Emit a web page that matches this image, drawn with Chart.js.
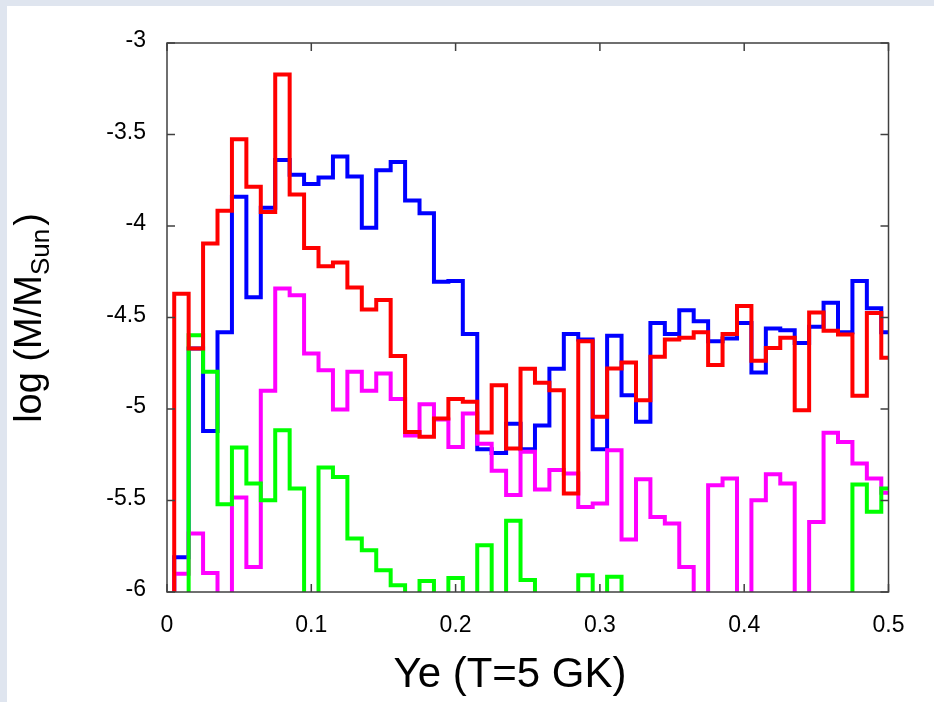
<!DOCTYPE html>
<html><head><meta charset="utf-8">
<script src="https://cdn.jsdelivr.net/npm/chart.js@4/dist/chart.umd.min.js"></script>
<style>
html,body{margin:0;padding:0;background:#dfe5ef;overflow:hidden;}
#wrap{position:absolute;left:0;top:0;width:934px;height:702px;}
</style></head><body>
<div id="wrap"><canvas id="c" width="934" height="702"></canvas></div>
<script>
// Ye bin centres (T = 5 GK)
const ye = [0.00,0.01,0.02,0.03,0.04,0.05,0.06,0.07,0.08,0.09,
            0.10,0.11,0.12,0.13,0.14,0.15,0.16,0.17,0.18,0.19,
            0.20,0.21,0.22,0.23,0.24,0.25,0.26,0.27,0.28,0.29,
            0.30,0.31,0.32,0.33,0.34,0.35,0.36,0.37,0.38,0.39,
            0.40,0.41,0.42,0.43,0.44,0.45,0.46,0.47,0.48,0.49,0.50];
// log(M/Msun) per bin; -6.6 marks bins that fall below the plotted range
const blueSeries = [-6.6,-5.81,-4.67,-5.12,-4.58,-3.84,-4.39,-3.90,-3.64,-3.72,
                    -3.77,-3.735,-3.62,-3.73,-4.01,-3.695,-3.65,-3.86,-3.93,-4.305,
                    -4.30,-4.59,-5.22,-5.24,-5.08,-5.22,-5.09,-4.78,-4.59,-4.62,
                    -5.22,-4.60,-4.925,-5.07,-4.53,-4.59,-4.46,-4.52,-4.63,-4.615,
                    -4.53,-4.80,-4.56,-4.57,-4.64,-4.55,-4.42,-4.58,-4.30,-4.45,-4.58];
const redSeries = [-6.6,-4.37,-4.67,-4.096,-3.917,-3.526,-3.786,-3.923,-3.172,-3.828,
                   -4.12,-4.22,-4.20,-4.336,-4.456,-4.405,-4.71,-5.125,-5.152,-5.052,
                   -4.946,-4.96,-5.128,-4.87,-5.216,-4.78,-4.857,-4.897,-5.462,-4.63,
                   -5.043,-4.779,-4.746,-4.952,-4.715,-4.62,-4.61,-4.58,-4.76,-4.59,
                   -4.437,-4.737,-4.666,-4.61,-5.007,-4.473,-4.573,-4.593,-4.928,-4.475,-4.72];
const magentaSeries = [-6.6,-5.90,-5.68,-5.896,-6.6,-5.484,-5.863,-4.90,-4.342,-4.378,
                       -4.697,-4.788,-5.003,-4.797,-4.90,-4.806,-4.946,-5.145,-4.974,-5.057,
                       -5.207,-5.025,-5.19,-5.338,-5.47,-5.234,-5.44,-5.334,-5.352,-5.535,
                       -5.516,-5.225,-5.713,-5.384,-5.59,-5.626,-5.863,-6.6,-5.416,-5.38,
                       -6.6,-5.498,-5.356,-5.407,-6.6,-5.617,-5.13,-5.18,-5.298,-5.38,-5.458];
const greenSeries = [-6.6,-6.6,-4.597,-4.797,-5.52,-5.21,-5.407,-5.498,-5.116,-5.434,
                     -6.6,-5.32,-5.371,-5.708,-5.772,-5.881,-5.963,-6.6,-5.94,-6.6,
                     -5.923,-6.6,-5.744,-6.6,-5.611,-5.935,-6.6,-6.6,-6.6,-5.908,
                     -6.6,-5.917,-6.6,-6.6,-6.6,-6.6,-6.6,-6.6,-6.6,-6.6,
                     -6.6,-6.6,-6.6,-6.6,-6.6,-6.6,-6.6,-6.6,-5.413,-5.562,-5.434];
// axis ticks
const xTicks = [0, 0.1, 0.2, 0.3, 0.4, 0.5];
const xTickLabels = ['0', '0.1', '0.2', '0.3', '0.4', '0.5'];
const yTicks = [-3, -3.5, -4, -4.5, -5, -5.5, -6];
const yTickLabels = ['-3', '-3.5', '-4', '-4.5', '-5', '-5.5', '-6'];
const xTitle = 'Ye (T=5 GK)';
const yTitleMain = 'log (M/M';
const yTitleSub = 'Sun';
const yTitleEnd = ')';

const FONT = '"Liberation Sans", Arial, Helvetica, sans-serif';
const SX = 1.0; // horizontal stretch of text

function pts(arr){ return ye.map((x,i)=>({x:x, y:arr[i]})); }
function ds(label, arr, color){
  return {label:label, data:pts(arr), borderColor:color, backgroundColor:color,
          borderWidth:4, pointRadius:0, stepped:'middle', fill:false,
          borderJoinStyle:'miter', borderCapStyle:'butt',
          clip:{left:0,top:0,right:0,bottom:0}};
}
function txt(ctx, s, x, y, size, align, base){
  ctx.save();
  ctx.font = size + 'px ' + FONT;
  ctx.fillStyle = '#000';
  ctx.textBaseline = base || 'middle';
  ctx.textAlign = align;
  ctx.translate(x, y);
  ctx.scale(SX, 1);
  ctx.fillText(s, 0, 0);
  ctx.restore();
}

const bgPlugin = {
  id:'bg',
  beforeDraw(chart){
    const ctx = chart.ctx;
    ctx.save();
    ctx.fillStyle = '#dfe5ef';
    ctx.fillRect(0,0,chart.width,chart.height);
    ctx.fillStyle = '#ffffff';
    ctx.fillRect(7,6,chart.width-7,chart.height-6);
    ctx.restore();
  }
};

const framePlugin = {
  id:'frame',
  afterDraw(chart){
    const ctx = chart.ctx, a = chart.chartArea;
    const xs = chart.scales.x, ys = chart.scales.y;
    ctx.save();
    ctx.strokeStyle = '#404040';
    ctx.lineWidth = 1.5;
    ctx.strokeRect(a.left, a.top, a.right-a.left, a.bottom-a.top);
    const TL = 8;
    ctx.beginPath();
    xTicks.forEach(v=>{
      const px = xs.getPixelForValue(v);
      ctx.moveTo(px, a.bottom); ctx.lineTo(px, a.bottom-TL);
      ctx.moveTo(px, a.top); ctx.lineTo(px, a.top+TL);
    });
    yTicks.forEach(v=>{
      const py = ys.getPixelForValue(v);
      ctx.moveTo(a.left, py); ctx.lineTo(a.left+TL, py);
      ctx.moveTo(a.right, py); ctx.lineTo(a.right-TL, py);
    });
    ctx.stroke();
    ctx.restore();
    // tick labels
    xTicks.forEach((v,i)=>{
      txt(ctx, xTickLabels[i], xs.getPixelForValue(v), a.bottom+34, 23, 'center');
    });
    yTicks.forEach((v,i)=>{
      txt(ctx, yTickLabels[i], a.left-21, ys.getPixelForValue(v)-2, 23, 'right');
    });
    // x title
    txt(ctx, xTitle, 510, 675, 42, 'center');
    // y title with subscript
    ctx.save();
    ctx.translate(28, 318);
    ctx.rotate(-Math.PI/2);
    ctx.scale(SX,1);
    ctx.fillStyle = '#000';
    ctx.textBaseline = 'alphabetic';
    ctx.font = '38px ' + FONT;
    const w1 = ctx.measureText(yTitleMain).width;
    const w3 = ctx.measureText(yTitleEnd).width;
    ctx.font = '26px ' + FONT;
    const w2 = ctx.measureText(yTitleSub).width;
    const tot = w1 + w2 + w3 + 3;
    let x0 = -tot/2;
    const base = 13;
    ctx.font = '38px ' + FONT;
    ctx.textAlign = 'left';
    ctx.fillText(yTitleMain, x0, base);
    ctx.font = '26px ' + FONT;
    ctx.fillText(yTitleSub, x0 + w1, base + 8);
    ctx.font = '38px ' + FONT;
    ctx.fillText(yTitleEnd, x0 + w1 + w2 + 3, base);
    ctx.restore();
  }
};

new Chart(document.getElementById('c'), {
  type:'line',
  data:{ datasets:[
    ds('red', redSeries, '#ff0000'),
    ds('green', greenSeries, '#00ff00'),
    ds('magenta', magentaSeries, '#ff00ff'),
    ds('blue', blueSeries, '#0000ff')
  ]},
  options:{
    responsive:false, animation:false, devicePixelRatio:1,
    layout:{padding:{left:0, top:43, right:45.5, bottom:0}},
    plugins:{legend:{display:false}, tooltip:{enabled:false}},
    scales:{
      x:{type:'linear', min:0, max:0.5,
         ticks:{display:false}, grid:{display:false}, border:{display:false},
         afterFit(s){ s.height = 110; }},
      y:{type:'linear', min:-6, max:-3,
         ticks:{display:false}, grid:{display:false}, border:{display:false},
         afterFit(s){ s.width = 167; }}
    }
  },
  plugins:[bgPlugin, framePlugin]
});
</script>
</body></html>
